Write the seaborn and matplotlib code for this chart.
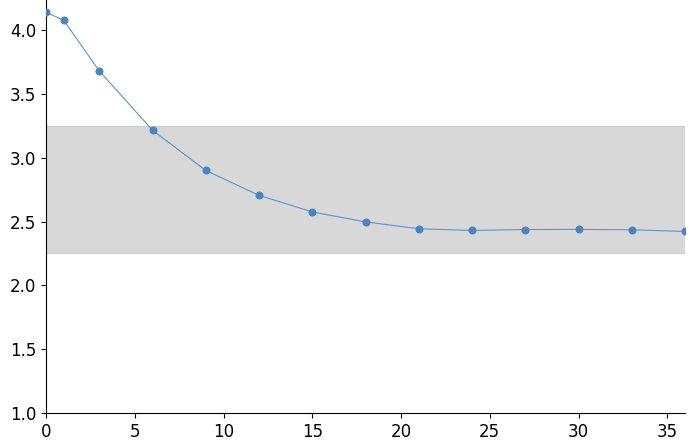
import matplotlib
matplotlib.use("Agg")
import matplotlib.pyplot as plt
import seaborn as sns
import pandas as pd

x_vals = [0, 1, 3, 6, 9, 12, 15, 18, 21, 24, 27, 30, 33, 36]
y_vals = [4.14, 4.075, 3.68, 3.215, 2.90, 2.705, 2.575, 2.497, 2.443, 2.430, 2.437, 2.438, 2.435, 2.422]
band_low, band_high = 2.25, 3.25
x_ticks = [0, 5, 10, 15, 20, 25, 30, 35]
y_ticks = [1.0, 1.5, 2.0, 2.5, 3.0, 3.5, 4.0]

sns.set_style("ticks", {"axes.edgecolor": "black", "xtick.color": "black",
                        "ytick.color": "black", "text.color": "black"})
plt.rcParams['font.family'] = ['DejaVu Sans']

df = pd.DataFrame({"x": x_vals, "y": y_vals})

fig = plt.figure(figsize=(6.9, 4.41), dpi=100)
ax = fig.add_axes([46/690, 1 - 413/441, (685 - 46)/690, 413/441])

ax.axhspan(band_low, band_high, facecolor="#d8d8d8", edgecolor="#cccccc", linewidth=0.8, zorder=0)

sns.lineplot(data=df, x="x", y="y", ax=ax, color="#5b95cf", linewidth=0.8,
             marker="o", markersize=5, markerfacecolor="#4a84c0",
             markeredgecolor="#4a84c0", zorder=3)

ax.set_xlim(0, 36)
ax.set_ylim(1.0, 4.235)
ax.set_xticks(x_ticks)
ax.set_yticks(y_ticks)
ax.set_xlabel("")
ax.set_ylabel("")
ax.tick_params(labelsize=12, colors="black")
for s in ax.spines.values():
    s.set_color("black")
    s.set_linewidth(0.8)
sns.despine(ax=ax)

fig.savefig("out.png", dpi=100)
